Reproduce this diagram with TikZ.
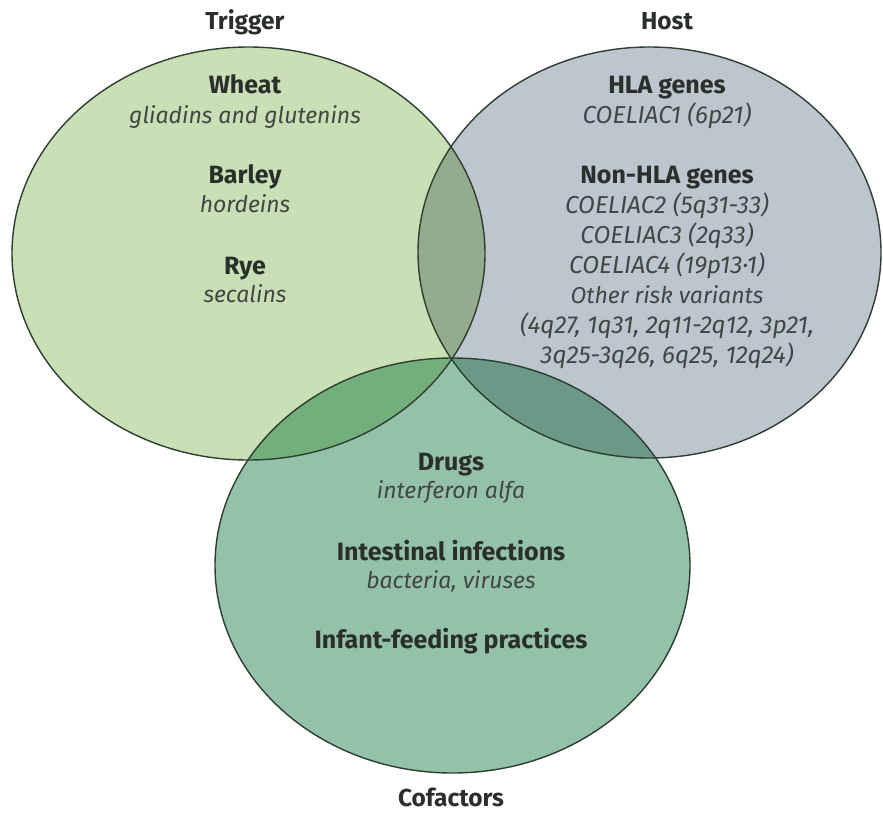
\documentclass[tikz,border=0pt]{standalone}
\usepackage{fontspec}
\setmainfont{Fira Sans}
\definecolor{cL}{HTML}{C9DFB5}
\definecolor{cR}{HTML}{BDC5CF}
\definecolor{cB}{HTML}{94C1A9}
\definecolor{cLR}{HTML}{94AC8E}
\definecolor{cLB}{HTML}{73AF7D}
\definecolor{cRB}{HTML}{6C9987}
\definecolor{cLRB}{HTML}{6A9A78}
\definecolor{linec}{HTML}{2E3E30}
\definecolor{txtdark}{HTML}{2B2F2B}
\definecolor{txtgrey}{HTML}{424744}
\def\EllL{(248.5,253.5) ellipse [x radius=236.5pt, y radius=206.5pt]}
\def\EllR{(649.5,252.5) ellipse [x radius=231.5pt, y radius=205.5pt]}
\def\EllB{(452.5,565.5) ellipse [x radius=237.5pt, y radius=207.5pt]}
\begin{document}
\begin{tikzpicture}[x=1pt,y=-1pt,
  head/.style={font=\bfseries\fontsize{25}{28}\selectfont, text=txtdark, anchor=base, inner sep=0pt},
  sub/.style={font=\itshape\fontsize{23}{26}\selectfont, text=txtgrey, anchor=base, inner sep=0pt},
  subnum/.style={font=\itshape\fontsize{24.5}{27}\selectfont, text=txtgrey, anchor=base, inner sep=0pt},
  title/.style={font=\bfseries\fontsize{24.5}{27}\selectfont, text=txtdark, anchor=base, inner sep=0pt},
  rim/.style={draw=linec, line width=1.4pt}]
\useasboundingbox (0,0) rectangle (883,814);
\fill[white] (0,0) rectangle (883,814);
% fills
\fill[cL] \EllL;
\fill[cR] \EllR;
\fill[cB] \EllB;
\begin{scope}\clip \EllL; \fill[cLR] \EllR;\end{scope}
\begin{scope}\clip \EllL; \fill[cLB] \EllB;\end{scope}
\begin{scope}\clip \EllR; \fill[cRB] \EllB;\end{scope}
\begin{scope}\clip \EllL; \clip \EllR; \fill[cLRB] \EllB;\end{scope}
% outlines
\draw[rim] \EllL;
\draw[rim] \EllR;
\draw[rim] \EllB;
% titles
\node[title] (trigger) at (245,29) {Trigger};
\node[title] (host) at (667,29) {Host};
\node[title] (cofactors) at (451,806) {Cofactors};
% trigger
\node[head] (wheat) at (245,93) {Wheat};
\node[sub] (wheatsub) at (245,123) {gliadins and glutenins};
\node[head] (barley) at (245,183) {Barley};
\node[sub] (barleysub) at (245,212) {hordeins};
\node[head] (rye) at (245,274) {Rye};
\node[sub] (ryesub) at (245,302) {secalins};
% host
\node[head] (hla) at (667,93) {HLA genes};
\node[subnum] (c1) at (667,123) {COELIAC1 (6p21)};
\node[head] (nonhla) at (667,183) {Non-HLA genes};
\node[subnum] (c2) at (667,213) {COELIAC2 (5q31-33)};
\node[subnum] (c3) at (667,243) {COELIAC3 (2q33)};
\node[subnum] (c4) at (667,273) {COELIAC4 (19p13·1)};
\node[sub] (other) at (667,303) {Other risk variants};
\node[subnum] (v1) at (667,333) {(4q27, 1q31, 2q11-2q12, 3p21,};
\node[subnum] (v2) at (667,363) {3q25-3q26, 6q25, 12q24)};
% cofactors
\node[head] (drugs) at (451,470) {Drugs};
\node[sub] (drugssub) at (451,498) {interferon alfa};
\node[head] (infect) at (451,560) {Intestinal infections};
\node[sub] (infectsub) at (451,588) {bacteria, viruses};
\node[head] (infant) at (451,648) {Infant-feeding practices};
\end{tikzpicture}
\end{document}
